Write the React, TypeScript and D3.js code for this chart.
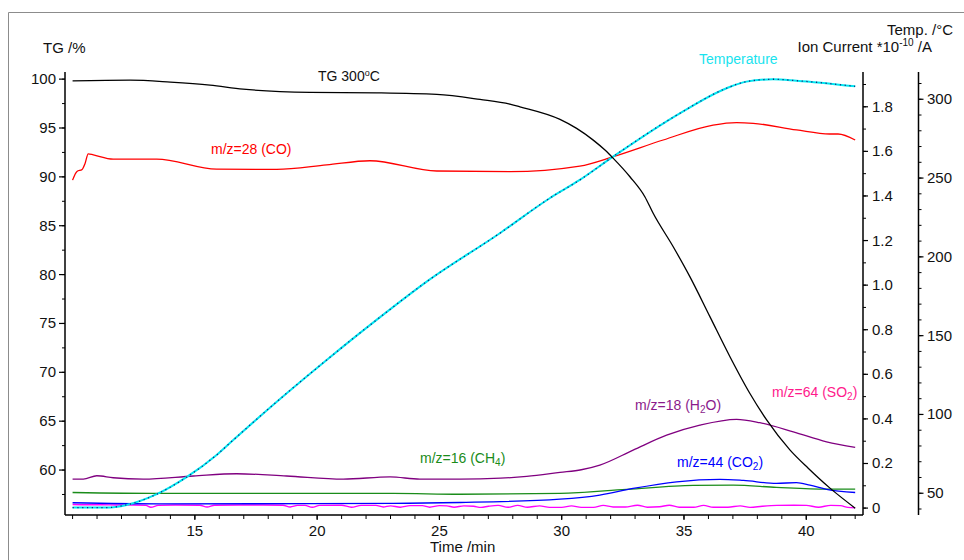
import React from "react";
import * as d3 from "d3";

const W = 964;
const H = 560;
const FONT = "'Liberation Sans', Arial, sans-serif";

// Axis tick values
const timeTicks = [15, 20, 25, 30, 35, 40];
const tgTicks = [60, 65, 70, 75, 80, 85, 90, 95, 100];
const ionTicks = [0, 0.2, 0.4, 0.6, 0.8, 1.0, 1.2, 1.4, 1.6, 1.8];
const tempTicks = [50, 100, 150, 200, 250, 300];

// TG mass curve: [time /min, TG /%]
const tgCurve: [number, number][] = [
  [10.0, 99.83], [12.35, 99.9], [14.0, 99.7], [15.62, 99.39], [16.97, 98.98],
  [19.71, 98.65], [22.43, 98.6], [24.89, 98.44], [26.66, 97.92], [27.88, 97.44],
  [28.29, 97.17], [29.93, 95.88], [30.61, 94.96], [31.29, 93.76], [31.77, 92.74],
  [32.11, 91.89], [32.79, 90.01], [33.4, 87.97], [33.74, 86.27], [34.56, 82.85],
  [35.24, 79.79], [36.06, 75.7], [36.88, 71.6], [37.69, 67.86], [38.38, 65.13],
  [39.33, 62.07], [40.08, 60.19], [40.97, 58.15], [42.0, 56.1],
];

// Sample temperature: [time /min, °C]
const tempCurve: [number, number][] = [
  [10.0, 40.9], [11.39, 40.9], [12.21, 42.6], [13.44, 49.4], [14.66, 60.2],
  [15.89, 74.3], [16.57, 83.8], [18.35, 108.1], [20.39, 134.6], [22.43, 160.0],
  [24.48, 184.3], [27.47, 215.0], [29.51, 237.2], [30.74, 248.8], [32.1, 263.6],
  [34.83, 291.1], [36.74, 307.0], [37.55, 311.2], [38.64, 312.7], [39.6, 311.8],
  [42.0, 308.2],
];

// Ion currents (*10^-10 A): [time /min, value]
const coCurve: [number, number][] = [
  [10.0, 1.471], [10.18, 1.51], [10.39, 1.519], [10.51, 1.546], [10.64, 1.589],
  [10.85, 1.584], [11.66, 1.565], [13.44, 1.565], [15.89, 1.52], [18.35, 1.519],
  [20.39, 1.539], [22.16, 1.558], [24.89, 1.512], [27.88, 1.509], [30.74, 1.534],
  [32.1, 1.576], [34.15, 1.651], [36.19, 1.718], [37.15, 1.729], [37.83, 1.726],
  [39.6, 1.696], [40.96, 1.678], [41.3, 1.678], [42.0, 1.651],
];

const h2oCurve: [number, number][] = [
  [10.0, 0.13], [10.44, 0.13], [10.99, 0.145], [11.66, 0.136], [12.89, 0.13],
  [14.94, 0.144], [16.71, 0.154], [18.75, 0.144], [21.07, 0.13], [22.98, 0.14],
  [24.2, 0.13], [25.84, 0.13], [27.5, 0.134], [28.57, 0.142], [29.93, 0.16],
  [30.8, 0.172], [31.56, 0.193], [32.92, 0.26], [34.29, 0.327], [35.65, 0.372],
  [37.15, 0.398], [38.1, 0.383], [39.47, 0.342], [40.83, 0.297], [42.0, 0.272],
];

const ch4Curve: [number, number][] = [
  [10.0, 0.07], [13.57, 0.066], [23.11, 0.066], [25.84, 0.062], [29.93, 0.066],
  [32.65, 0.084], [35.38, 0.102], [37.01, 0.103], [38.78, 0.093], [40.83, 0.085],
  [42.0, 0.085],
];

const co2Curve: [number, number][] = [
  [10.0, 0.024], [13.57, 0.019], [23.11, 0.021], [25.84, 0.025], [29.93, 0.04],
  [31.56, 0.058], [32.92, 0.088], [34.7, 0.118], [36.47, 0.129], [37.43, 0.124],
  [38.78, 0.111], [39.6, 0.114], [40.15, 0.103], [40.83, 0.084], [42.0, 0.07],
];

const so2Curve: [number, number][] = [
  [10.0, 0.016], [10.6, 0.015], [11.2, 0.015], [11.8, 0.014], [12.5, 0.014],
  [13.0, 0.012], [13.2, 0.004], [13.5, 0.012], [14.2, 0.014], [15.2, 0.013],
  [15.5, 0.005], [15.8, 0.013], [16.8, 0.014], [17.8, 0.014], [18.6, 0.013],
  [18.9, 0.005], [19.2, 0.012], [19.5, 0.012], [19.8, 0.004], [20.1, 0.012],
  [21.0, 0.013], [21.4, 0.004], [21.8, 0.012], [22.4, 0.012], [22.7, 0.005],
  [23.0, 0.01], [23.4, 0.004], [23.8, 0.011], [24.3, 0.011], [24.6, 0.004],
  [25.0, 0.011], [25.3, 0.01], [25.6, 0.004], [26.0, 0.01], [26.4, 0.008],
  [26.7, 0.003], [27.0, 0.008], [27.4, 0.012], [27.8, 0.004], [28.2, 0.012],
  [28.6, 0.004], [29.1, 0.01], [29.5, 0.003], [30.0, 0.003], [30.4, 0.01],
  [30.8, 0.003], [31.3, 0.003], [31.7, 0.012], [32.1, 0.005], [32.6, 0.005],
  [33.1, 0.013], [33.5, 0.004], [34.0, 0.006], [34.4, 0.013], [34.8, 0.004],
  [35.4, 0.004], [35.8, 0.012], [36.2, 0.004], [36.8, 0.004], [37.3, 0.01],
  [37.7, 0.003], [38.2, 0.008], [38.8, 0.012], [39.5, 0.013], [40.0, 0.012],
  [40.5, 0.004], [41.0, 0.012], [41.4, 0.011], [41.7, 0.003], [42.0, 0.001],
];

// Plot frame
const LEFT = 65;
const RIGHT = 863;
const TOP = 72;
const BOTTOM = 515;
const TEMP_AXIS_X = 918.5;

const xScale = d3.scaleLinear().domain([9.69, 42.32]).range([LEFT, RIGHT]);
const tgScale = d3.scaleLinear().domain([55.4, 100.73]).range([BOTTOM, TOP]);
const ionScale = d3.scaleLinear().domain([-0.031, 1.956]).range([BOTTOM, TOP]);
const tempScale = d3.scaleLinear().domain([36.2, 317.3]).range([BOTTOM, TOP]);

const makeLine = (y: d3.ScaleLinear<number, number>) =>
  d3
    .line<[number, number]>()
    .x((d) => xScale(d[0]))
    .y((d) => y(d[1]))
    .curve(d3.curveMonotoneX);

const tgLine = makeLine(tgScale);
const ionLine = makeLine(ionScale);
const tempLine = makeLine(tempScale);

const minorTime = d3.range(10, 43, 1);
const minorTg = d3.range(57.5, 101, 2.5);
const minorIon = d3.range(0, 1.95, 0.1);
const minorTemp = d3.range(40, 320, 10);

const txt = { fontFamily: FONT, fontSize: 14 };

function Sub({ children }: { children: React.ReactNode }) {
  return (
    <tspan fontSize={10} dy={3}>
      {children}
    </tspan>
  );
}

export default function App() {
  const ionFmt = (d: number) => (d === 0 ? "0" : d.toFixed(1));
  return (
    <svg
      width={W}
      height={H}
      style={{ position: "absolute", left: 0, top: 0, background: "#fff" }}
    >
      {/* outer frame */}
      <line x1={8.5} y1={12.5} x2={W} y2={12.5} stroke="#8c8c8c" strokeWidth={1} />
      <line x1={8.5} y1={12.5} x2={8.5} y2={H} stroke="#8c8c8c" strokeWidth={1} />

      {/* bottom axis */}
      <line x1={LEFT} y1={BOTTOM} x2={RIGHT} y2={BOTTOM} stroke="#000" strokeWidth={1.5} />
      {minorTime.map((t) => (
        <line key={"mt" + t} x1={xScale(t)} x2={xScale(t)} y1={BOTTOM} y2={BOTTOM + 4} stroke="#000" strokeWidth={1} />
      ))}
      {timeTicks.map((t) => (
        <g key={"t" + t}>
          <line x1={xScale(t)} x2={xScale(t)} y1={BOTTOM} y2={BOTTOM + 5} stroke="#000" strokeWidth={1.2} />
          <text x={xScale(t)} y={536} textAnchor="middle" {...txt} fontSize={15} fill="#111">
            {t}
          </text>
        </g>
      ))}
      <text x={430} y={552} {...txt} fontSize={15} fill="#111">
        Time /min
      </text>

      {/* left TG axis */}
      <line x1={LEFT} y1={TOP} x2={LEFT} y2={BOTTOM} stroke="#000" strokeWidth={1.5} />
      {minorTg.map((v) => (
        <line key={"mg" + v} x1={LEFT - 3} x2={LEFT} y1={tgScale(v)} y2={tgScale(v)} stroke="#000" strokeWidth={1} />
      ))}
      {tgTicks.map((v) => (
        <g key={"g" + v}>
          <line x1={LEFT - 6} x2={LEFT} y1={tgScale(v)} y2={tgScale(v)} stroke="#000" strokeWidth={1.2} />
          <text x={56} y={tgScale(v) + 5} textAnchor="end" {...txt} fontSize={15} fill="#111">
            {v}
          </text>
        </g>
      ))}
      <text x={43} y={52.5} {...txt} fontSize={15} fill="#111">
        TG /%
      </text>

      {/* right ion current axis */}
      <line x1={RIGHT} y1={TOP} x2={RIGHT} y2={BOTTOM} stroke="#000" strokeWidth={1.5} />
      {minorIon.map((v) => (
        <line key={"mi" + v} x1={RIGHT} x2={RIGHT + 3} y1={ionScale(v)} y2={ionScale(v)} stroke="#000" strokeWidth={1} />
      ))}
      {ionTicks.map((v) => (
        <g key={"i" + v}>
          <line x1={RIGHT} x2={RIGHT + 5} y1={ionScale(v)} y2={ionScale(v)} stroke="#000" strokeWidth={1.2} />
          <text x={872} y={ionScale(v) + 5} {...txt} fontSize={15} fill="#111">
            {ionFmt(v)}
          </text>
        </g>
      ))}

      {/* right temperature axis */}
      <line x1={TEMP_AXIS_X} y1={TOP} x2={TEMP_AXIS_X} y2={BOTTOM} stroke="#000" strokeWidth={1.5} />
      {minorTemp.map((v) => (
        <line key={"mT" + v} x1={TEMP_AXIS_X} x2={TEMP_AXIS_X + 3} y1={tempScale(v)} y2={tempScale(v)} stroke="#000" strokeWidth={1} />
      ))}
      {tempTicks.map((v) => (
        <g key={"T" + v}>
          <line x1={TEMP_AXIS_X} x2={TEMP_AXIS_X + 5} y1={tempScale(v)} y2={tempScale(v)} stroke="#000" strokeWidth={1.2} />
          <text x={927} y={tempScale(v) + 5} {...txt} fontSize={15} fill="#111">
            {v}
          </text>
        </g>
      ))}
      <text x={953} y={34.5} textAnchor="end" {...txt} fontSize={15} fill="#111">
        Temp. /°C
      </text>
      <text x={932} y={52} textAnchor="end" {...txt} fontSize={15} fill="#111">
        Ion Current *10
        <tspan fontSize={10} dy={-6}>-10</tspan>
        <tspan dy={6}> /A</tspan>
      </text>

      {/* ion current curves */}
      <path d={ionLine(so2Curve) || ""} fill="none" stroke="#ff00ff" strokeWidth={1.4} />
      <path d={ionLine(ch4Curve) || ""} fill="none" stroke="#1a8c1a" strokeWidth={1.3} />
      <path d={ionLine(co2Curve) || ""} fill="none" stroke="#0000ff" strokeWidth={1.3} />
      <path d={ionLine(h2oCurve) || ""} fill="none" stroke="#800080" strokeWidth={1.3} />
      <path d={ionLine(coCurve) || ""} fill="none" stroke="#ff0000" strokeWidth={1.3} />

      {/* temperature */}
      <path d={tempLine(tempCurve) || ""} fill="none" stroke="#00e8f0" strokeWidth={2} />
      <path d={tempLine(tempCurve) || ""} fill="none" stroke="#1a237e" strokeWidth={1.3} strokeDasharray="1.2 3.6" />

      {/* TG */}
      <path d={tgLine(tgCurve) || ""} fill="none" stroke="#000" strokeWidth={1.3} />

      {/* curve labels */}
      <text x={318} y={81} {...txt} fill="#111">
        TG 300
        <tspan fontSize={9} dy={-5}>o</tspan>
        <tspan dy={5}>C</tspan>
      </text>
      <text x={699} y={63.5} {...txt} fill="#19e3ee">
        Temperature
      </text>
      <text x={211} y={153.5} {...txt} fill="#ff0000">
        m/z=28 (CO)
      </text>
      <text x={420} y={463} {...txt} fill="#1a8c1a">
        m/z=16 (CH<Sub>4</Sub>
        <tspan dy={-3}>)</tspan>
      </text>
      <text x={635} y={410} {...txt} fill="#8b1a8b">
        m/z=18 (H<Sub>2</Sub>
        <tspan dy={-3}>O)</tspan>
      </text>
      <text x={677} y={467} {...txt} fill="#0000ff">
        m/z=44 (CO<Sub>2</Sub>
        <tspan dy={-3}>)</tspan>
      </text>
      <text x={772} y={397} {...txt} fill="#ff1a8c">
        m/z=64 (SO<Sub>2</Sub>
        <tspan dy={-3}>)</tspan>
      </text>
    </svg>
  );
}
